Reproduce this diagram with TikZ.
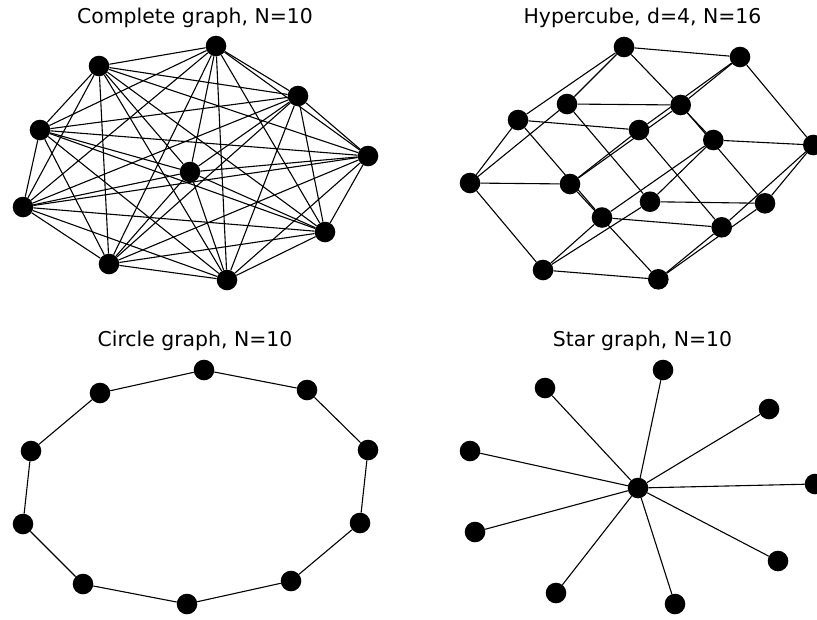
\documentclass[tikz,border=0pt]{standalone}
\usepackage{fontspec}
\setmainfont{DejaVu Sans}
\begin{document}
\begin{tikzpicture}[x=1pt,y=-1pt,
  vtx/.style={circle,fill=black,draw=none,minimum size=20.6pt,inner sep=0pt},
  edge/.style={draw=black,line width=1.1pt},
  ttl/.style={anchor=base,inner sep=0pt,font=\fontsize{20.4}{24}\selectfont}]
\useasboundingbox (0,0) rectangle (817,619);
% titles
\node[ttl] (t1) at (195,23.3) {Complete graph, N=10};
\node[ttl] (t2) at (642.5,23.3) {Hypercube, d=4, N=16};
\node[ttl] (t3) at (195,346) {Circle graph, N=10};
\node[ttl] (t4) at (642.5,346) {Star graph, N=10};
% complete graph
\node[vtx] (c0) at (216,46) {};
\node[vtx] (c1) at (99,66) {};
\node[vtx] (c2) at (298,96) {};
\node[vtx] (c3) at (40,130) {};
\node[vtx] (c4) at (368,156) {};
\node[vtx] (c5) at (190,172) {};
\node[vtx] (c6) at (23,207) {};
\node[vtx] (c7) at (325,232) {};
\node[vtx] (c8) at (109,264) {};
\node[vtx] (c9) at (227,280) {};
\foreach \i in {0,...,8}{
  \pgfmathtruncatemacro\j{\i+1}
  \foreach \k in {\j,...,9}{\draw[edge] (c\i) -- (c\k);}
}
% hypercube
\node[vtx] (h1) at (624,47) {};
\node[vtx] (h2) at (740,57) {};
\node[vtx] (h3) at (567,104) {};
\node[vtx] (h4) at (680.7,105) {};
\node[vtx] (h5) at (518,120) {};
\node[vtx] (h6) at (639,130) {};
\node[vtx] (h7) at (713.3,140) {};
\node[vtx] (h8) at (813.3,145) {};
\node[vtx] (h9) at (470,183) {};
\node[vtx] (h10) at (570,184) {};
\node[vtx] (h11) at (650,201.7) {};
\node[vtx] (h12) at (765,203.3) {};
\node[vtx] (h13) at (602,217.5) {};
\node[vtx] (h14) at (721.7,227.3) {};
\node[vtx] (h15) at (543,270) {};
\node[vtx] (h16) at (658.3,279.3) {};
\foreach \a/\b in {h1/h2,h5/h6,h3/h4,h7/h8,h9/h10,h13/h14,h11/h12,h15/h16,
  h1/h5,h2/h6,h3/h9,h7/h13,h4/h10,h8/h14,h11/h15,h12/h16,
  h1/h3,h2/h4,h5/h9,h7/h11,h6/h10,h8/h12,h13/h15,h14/h16,
  h1/h7,h2/h8,h5/h13,h3/h11,h6/h14,h4/h12,h9/h15,h10/h16}
  {\draw[edge] (\a) -- (\b);}
% circle graph
\node[vtx] (r0) at (204,370) {};
\node[vtx] (r1) at (307,390) {};
\node[vtx] (r2) at (368,450) {};
\node[vtx] (r3) at (360,523) {};
\node[vtx] (r4) at (291,581) {};
\node[vtx] (r5) at (187,604) {};
\node[vtx] (r6) at (83,584) {};
\node[vtx] (r7) at (23,524) {};
\node[vtx] (r8) at (31,451) {};
\node[vtx] (r9) at (100,393) {};
\foreach \a/\b in {r0/r1,r1/r2,r2/r3,r3/r4,r4/r5,r5/r6,r6/r7,r7/r8,r8/r9,r9/r0}
  {\draw[edge] (\a) -- (\b);}
% star graph
\node[vtx] (s0) at (638,488) {};
\node[vtx] (s1) at (663,370) {};
\node[vtx] (s2) at (545,388) {};
\node[vtx] (s3) at (769,409) {};
\node[vtx] (s4) at (470,451) {};
\node[vtx] (s5) at (815,484) {};
\node[vtx] (s6) at (475,532) {};
\node[vtx] (s7) at (778,561) {};
\node[vtx] (s8) at (556,593) {};
\node[vtx] (s9) at (675,604) {};
\foreach \k in {1,...,9}{\draw[edge] (s0) -- (s\k);}
\end{tikzpicture}
\end{document}
